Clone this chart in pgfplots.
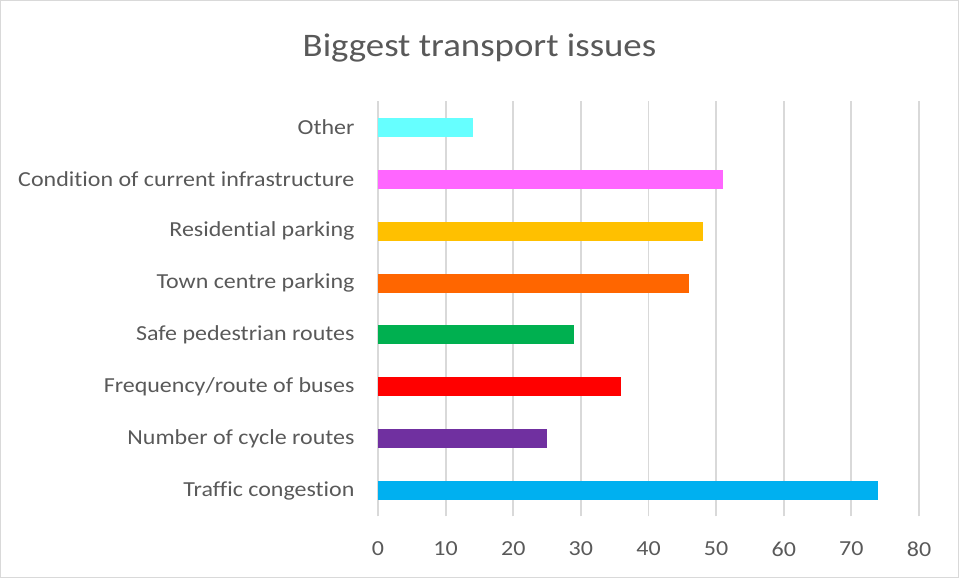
\documentclass[border=0pt]{standalone}
\usepackage{pgfplots}
\pgfplotsset{compat=1.18}
\usepackage{fontspec}
\setmainfont{Carlito}[FakeStretch=1.12, Ligatures=NoCommon]
\definecolor{txt}{HTML}{595959}
\definecolor{grd}{HTML}{D9D9D9}
\begin{document}
\begin{tikzpicture}[x=1bp,y=1bp]
\draw[grd,line width=1bp] (0.5,0.5) rectangle (958.5,577.5);
\begin{axis}[
  at={(378bp,61.5bp)}, anchor=south west,
  scale only axis, width=541bp, height=415bp,
  xbar, bar width=19bp, bar shift=0pt,
  xmin=0, xmax=80, xtick={0,10,...,80},
  ymin=-0.5, ymax=7.5,
  ytick={0,...,7},
  yticklabels={Traffic congestion,Number of cycle routes,Frequency/route of buses,Safe pedestrian routes,Town centre parking,Residential parking,Condition of current infrastructure,Other},
  axis line style={draw=none},
  major tick length=0pt,
  xmajorgrids, grid style={grd,line width=1.8bp},
  tick label style={font=\fontsize{21.5}{24}\selectfont, text=txt},
  /pgf/number format/assume math mode=true,
  xticklabel style={yshift=-22bp},
  yticklabel style={xshift=-20bp},
  title={Biggest transport issues},
  title style={font=\fontsize{33}{38}\selectfont, text=txt, at={(0.1876,1)}, anchor=center, yshift=47bp},
]
\addplot[draw=none, fill={rgb,255:red,0;green,176;blue,240}] coordinates {(74,0)};
\addplot[draw=none, fill={rgb,255:red,112;green,48;blue,160}] coordinates {(25,1)};
\addplot[draw=none, fill={rgb,255:red,255;green,0;blue,0}] coordinates {(36,2)};
\addplot[draw=none, fill={rgb,255:red,0;green,176;blue,80}] coordinates {(29,3)};
\addplot[draw=none, fill={rgb,255:red,255;green,102;blue,0}] coordinates {(46,4)};
\addplot[draw=none, fill={rgb,255:red,255;green,192;blue,0}] coordinates {(48,5)};
\addplot[draw=none, fill={rgb,255:red,255;green,102;blue,255}] coordinates {(51,6)};
\addplot[draw=none, fill={rgb,255:red,102;green,255;blue,255}] coordinates {(14,7)};
\end{axis}
\end{tikzpicture}
\end{document}
